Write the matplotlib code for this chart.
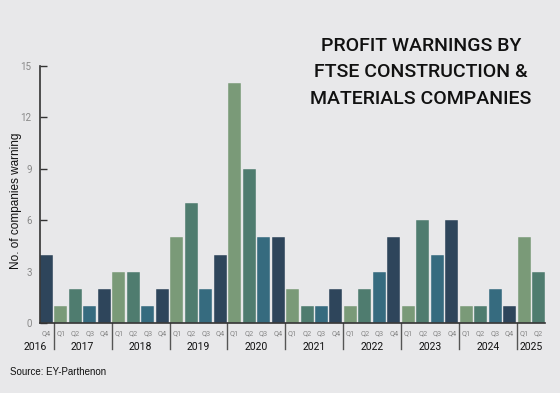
import matplotlib
matplotlib.use("Agg")
import matplotlib.pyplot as plt
from matplotlib.transforms import blended_transform_factory

quarters = ["Q4"] + ["Q1", "Q2", "Q3", "Q4"] * 8 + ["Q1", "Q2"]
years = ["2016", "2017", "2018", "2019", "2020", "2021", "2022", "2023", "2024", "2025"]
year_counts = [1, 4, 4, 4, 4, 4, 4, 4, 4, 2]
values = [4,
          1, 2, 1, 2,
          3, 3, 1, 2,
          5, 7, 2, 4,
          14, 9, 5, 5,
          2, 1, 1, 2,
          1, 2, 3, 5,
          1, 6, 4, 6,
          1, 1, 2, 1,
          5, 3]
yticks = [0, 3, 6, 9, 12, 15]

qcolors = {"Q1": "#7a9a78", "Q2": "#4f7c6f", "Q3": "#366b7f", "Q4": "#2e455b"}
bg = "#e8e8ea"

fig = plt.figure(figsize=(5.6, 3.93), dpi=100, facecolor=bg)
ax = fig.add_axes([0.0714, 0.178, 0.902, 0.654], facecolor=bg)

x = list(range(len(values)))
ax.bar(x, values, width=0.9, color=[qcolors[q] for q in quarters],
       edgecolor=bg, linewidth=0.3, zorder=2)

ax.set_xlim(-0.45, len(values) - 0.55)
ax.set_ylim(0, 15)
ax.set_yticks(yticks)
ax.set_yticklabels([str(t) for t in yticks], color="#888888", fontsize=7,
                   family=["Roboto", "DejaVu Sans"])
ax.tick_params(axis="y", direction="in", length=5, width=1, color="#333333", pad=6)
ax.set_xticks([])
for s in ["top", "right"]:
    ax.spines[s].set_visible(False)
ax.spines["left"].set_color("#333333")
ax.spines["left"].set_linewidth(1.2)
ax.spines["bottom"].set_color("#333333")
ax.spines["bottom"].set_linewidth(1.2)

fig.text(0.028, 0.49, "No. of companies warning", rotation=90, ha="center", va="center",
         fontsize=8.5, color="#111111", family=["Liberation Sans", "DejaVu Sans"])

trans = blended_transform_factory(ax.transData, ax.transAxes)
for xi, q in zip(x, quarters):
    ax.text(xi, -0.04, q, transform=trans, ha="center", va="center",
            fontsize=5.3, color="#888888", family=["Roboto", "DejaVu Sans"])

start = 0
for i, (yr, n) in enumerate(zip(years, year_counts)):
    if i == 0:
        ax.text(start + 0.05, -0.092, yr, transform=trans, ha="right", va="center",
                fontsize=7.5, color="#111111", family=["Roboto", "DejaVu Sans"])
    else:
        center = start + (n - 1) / 2
        ax.text(center, -0.092, yr, transform=trans, ha="center", va="center",
                fontsize=7.5, color="#111111", family=["Roboto", "DejaVu Sans"])
        ax.plot([start - 0.5, start - 0.5], [0, -0.1], transform=trans,
                color="#555555", linewidth=1.0, clip_on=False)
    start += n

fig.text(0.752, 0.816, "PROFIT WARNINGS BY\nFTSE CONSTRUCTION &\nMATERIALS COMPANIES",
         ha="center", va="center", fontsize=14, color="#111111", linespacing=1.6,
         fontweight="medium", family=["Roboto", "DejaVu Sans"])

fig.text(0.018, 0.045, "Source: EY-Parthenon", fontsize=7, color="#111111",
         family=["Liberation Sans", "DejaVu Sans"])

fig.savefig("out.png", dpi=100, facecolor=bg)
